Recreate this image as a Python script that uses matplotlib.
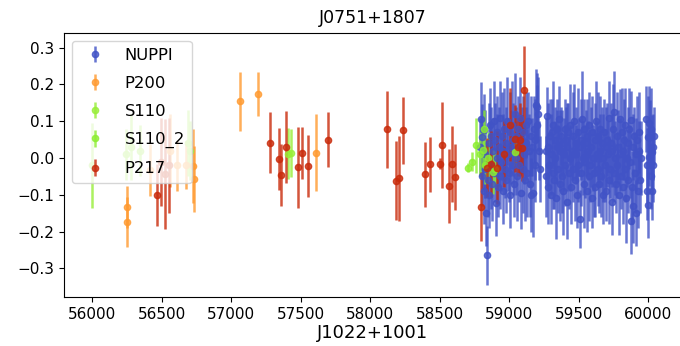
import numpy as np
import matplotlib
matplotlib.use("Agg")
import matplotlib.pyplot as plt

# NUPPI: MJD, residual, error
nuppi_mjd = [58792, 58797, 58801, 58806, 58811, 58815, 58819, 58824, 58829, 58834, 58840, 58845,
             58851, 58856, 58861, 58866, 58871, 58877, 58882, 58887, 58893, 58898, 58904, 58909,
             58914, 58920, 58925, 58931, 58936, 58942, 58947, 58953, 58958, 58964, 58969, 58975,
             58980, 58986, 58991, 58997, 59002, 59008, 59013, 59019, 59024, 59030, 59035, 59041,
             59046, 59052, 59057, 59063, 59068, 59074, 59079, 59085, 59090, 59096, 59101, 59107,
             59112, 59118, 59124, 59130, 59136, 59142, 59148, 59154, 59160, 59166, 59171, 59177,
             59183, 59188, 59193, 59198, 59203, 59208, 59213, 59219,
             59262, 59267, 59271, 59276, 59282, 59286, 59291, 59297, 59301, 59306, 59312, 59317,
             59321, 59327, 59332, 59336, 59342, 59347, 59352, 59357, 59362, 59368, 59373, 59377,
             59383, 59388, 59393, 59398, 59404, 59409, 59414, 59419, 59424, 59430, 59435, 59440,
             59445, 59451, 59456, 59461, 59466, 59472, 59477, 59482, 59487, 59493, 59498, 59503,
             59508, 59514, 59519, 59524, 59530, 59535, 59540, 59545, 59551, 59556, 59561, 59567,
             59572, 59577, 59582, 59588, 59593, 59598, 59604, 59609, 59614, 59619, 59625, 59630,
             59635, 59641, 59646, 59651, 59656, 59662, 59667, 59672, 59678, 59683, 59688, 59693,
             59699, 59704, 59709, 59715, 59720, 59725, 59730, 59736, 59741, 59746, 59752, 59757,
             59762, 59767, 59773, 59778, 59783, 59789, 59794, 59799, 59804, 59810, 59815, 59820,
             59826, 59831, 59836, 59841, 59847, 59852, 59857, 59863, 59868, 59873, 59878, 59884,
             59889, 59894, 59900, 59905, 59910, 59915, 59921, 59926, 59931, 59937, 59942, 59947,
             59985, 59989, 59993, 59997, 60001, 60005, 60009, 60013, 60017, 60021, 60025, 60029,
             60033, 60037, 60041]
nuppi_res = [0.03, 0.107, 0.058, -0.05, 0.02, -0.09, 0.075, -0.03, 0.01, -0.15, -0.265, -0.06,
             0.04, -0.1, 0.09, -0.02, 0.06, -0.07, 0.02, 0.1, -0.04, 0.05, -0.123, 0.0,
             0.07, -0.08, 0.03, -0.05, 0.11, -0.01, 0.06, -0.09, 0.02, 0.08, -0.03, 0.04,
             -0.06, 0.1, 0.01, -0.04, 0.07, -0.1, 0.03, 0.09, -0.02, 0.05, -0.07, 0.12,
             0.0, 0.06, -0.05, 0.08, -0.02, 0.11, 0.03, -0.094, 0.05, -0.03, 0.07, 0.01,
             -0.06, 0.09, 0.04, -0.04, 0.1, 0.02, -0.07, 0.06, -0.1, 0.03, -0.094, 0.08,
             -0.02, 0.05, 0.143, 0.14, 0.089, 0.12, 0.02, -0.03,
             0.02, -0.05, 0.114, -0.08, 0.03, -0.02, 0.06, -0.1, 0.01, 0.07, -0.04, 0.09,
             -0.06, 0.0, 0.05, -0.11, 0.03, 0.08, -0.03, 0.107, -0.07, 0.02, 0.06, -0.05,
             0.04, -0.09, 0.01, 0.08, -0.02, 0.05, -0.12, 0.03, 0.07, -0.04, 0.0, 0.09,
             -0.08, 0.02, 0.06, -0.03, 0.1, -0.06, 0.01, 0.04, -0.1, 0.07, -0.02, 0.03,
             -0.166, 0.05, -0.04, 0.107, 0.0, -0.07, 0.08, -0.01, 0.04, -0.09, 0.06, 0.02,
             -0.05, 0.09, -0.02, 0.03, -0.11, 0.07, 0.0, -0.04, 0.05, -0.08, 0.1, 0.01,
             -0.03, 0.06, -0.07, 0.02, 0.08, -0.05, 0.04, -0.1, 0.0, 0.07, -0.02, 0.03,
             -0.09, 0.05, 0.01, -0.06, 0.11, -0.03, 0.04, -0.12, 0.02, 0.08, -0.04, 0.126,
             0.0, -0.07, 0.06, -0.02, 0.03, -0.1, 0.107, 0.01, -0.05, 0.07, -0.08, 0.02,
             0.05, -0.03, 0.09, -0.11, 0.0, 0.04, -0.06, 0.08, -0.01, 0.103, -0.17, -0.08,
             0.03, -0.13, 0.06, -0.04, 0.01, -0.15, 0.05, -0.09, 0.02, 0.07, -0.06, 0.0,
             0.107, -0.019, -0.089, 0.058, -0.127, 0.096, 0.004, 0.058, -0.05, 0.08, -0.089, 0.017,
             0.03, -0.02, 0.06]
nuppi_err = [0.08, 0.1, 0.09, 0.08, 0.11, 0.09, 0.1, 0.08, 0.12, 0.09, 0.08, 0.1,
             0.11, 0.09, 0.1, 0.12, 0.08, 0.1, 0.09, 0.11, 0.08, 0.1, 0.09, 0.12,
             0.1, 0.08, 0.11, 0.09, 0.1, 0.08, 0.12, 0.09, 0.1, 0.11, 0.08, 0.1,
             0.09, 0.12, 0.1, 0.08, 0.11, 0.09, 0.1, 0.12, 0.08, 0.1, 0.09, 0.11,
             0.1, 0.08, 0.12, 0.09, 0.1, 0.11, 0.08, 0.1, 0.09, 0.12, 0.1, 0.08,
             0.11, 0.09, 0.1, 0.12, 0.08, 0.1, 0.09, 0.11, 0.1, 0.08, 0.12, 0.09,
             0.1, 0.11, 0.1, 0.09, 0.11, 0.1, 0.08, 0.09,
             0.09, 0.11, 0.08, 0.1, 0.12, 0.09, 0.1, 0.08, 0.11, 0.09, 0.1, 0.12,
             0.08, 0.1, 0.09, 0.11, 0.1, 0.08, 0.12, 0.09, 0.1, 0.11, 0.08, 0.1,
             0.09, 0.12, 0.1, 0.08, 0.11, 0.09, 0.1, 0.12, 0.08, 0.1, 0.09, 0.11,
             0.1, 0.08, 0.12, 0.09, 0.1, 0.11, 0.08, 0.1, 0.09, 0.12, 0.1, 0.08,
             0.08, 0.11, 0.09, 0.13, 0.1, 0.12, 0.08, 0.1, 0.09, 0.11, 0.1, 0.08,
             0.12, 0.09, 0.1, 0.11, 0.08, 0.1, 0.09, 0.12, 0.1, 0.08, 0.11, 0.09,
             0.1, 0.12, 0.08, 0.1, 0.09, 0.11, 0.1, 0.08, 0.12, 0.09, 0.1, 0.11,
             0.08, 0.1, 0.09, 0.12, 0.1, 0.08, 0.11, 0.09, 0.1, 0.12, 0.08, 0.11,
             0.1, 0.08, 0.12, 0.09, 0.1, 0.11, 0.08, 0.1, 0.09, 0.12, 0.1, 0.08,
             0.11, 0.09, 0.1, 0.12, 0.08, 0.1, 0.09, 0.11, 0.1, 0.08, 0.09, 0.1,
             0.09, 0.1, 0.08, 0.11, 0.1, 0.09, 0.12, 0.1, 0.08, 0.11, 0.09, 0.1,
             0.09, 0.1, 0.08, 0.11, 0.09, 0.1, 0.08, 0.1, 0.09, 0.11, 0.08, 0.1,
             0.09, 0.1, 0.08]

p200_mjd = [56249, 56252, 56416, 56560, 56608, 56673, 56724, 56728, 57060, 57193, 57606]
p200_res = [-0.132, -0.174, -0.032, 0.02, -0.02, -0.02, -0.022, -0.057, 0.154, 0.174, 0.014]
p200_err = [0.057, 0.067, 0.07, 0.1, 0.07, 0.065, 0.1, 0.09, 0.08, 0.06, 0.105]

s110_mjd = [55998, 56245, 56280, 56340, 56690, 56705, 57405, 57430]
s110_res = [-0.02, 0.01, 0.03, 0.02, 0.04, 0.02, 0.012, 0.014]
s110_err = [0.115, 0.07, 0.09, 0.07, 0.09, 0.08, 0.07, 0.065]

s110_2_mjd = [58705, 58730, 58762, 58790, 58813, 58820, 58827, 58850, 58884, 58895, 59039]
s110_2_res = [-0.026, -0.01, 0.035, 0.01, 0.022, 0.08, -0.02, 0.0, -0.037, -0.03, 0.017]
s110_2_err = [0.012, 0.025, 0.075, 0.06, 0.05, 0.05, 0.05, 0.07, 0.06, 0.05, 0.04]

p217_mjd = [56468, 56495, 56524, 56553, 57281, 57343, 57357, 57394, 57481, 57509, 57552,
            57699, 58117, 58182, 58205, 58236, 58394, 58431, 58500, 58516, 58564, 58586,
            58606, 58795, 58841, 58870, 58912, 58963, 59006, 59040, 59063, 59074, 59091, 59103]
p217_res = [-0.1, -0.01, -0.043, -0.02, 0.042, -0.003, -0.046, 0.03, -0.025, 0.013, -0.022,
            0.05, 0.078, -0.062, -0.055, 0.075, -0.044, -0.017, -0.016, 0.035, -0.076, -0.016,
            -0.051, -0.132, -0.026, -0.017, -0.026, 0.01, 0.091, 0.053, 0.031, 0.05, 0.027, 0.185]
p217_err = [0.085, 0.12, 0.15, 0.13, 0.083, 0.085, 0.085, 0.097, 0.11, 0.07, 0.085,
            0.075, 0.105, 0.107, 0.116, 0.09, 0.088, 0.075, 0.015, 0.117, 0.1, 0.104,
            0.09, 0.095, 0.08, 0.09, 0.1, 0.09, 0.1, 0.09, 0.08, 0.1, 0.09, 0.12]

groups = [
    ("NUPPI", nuppi_mjd, nuppi_res, nuppi_err, "#4153c6"),
    ("P200", p200_mjd, p200_res, p200_err, "#ff9a30"),
    ("S110", s110_mjd, s110_res, s110_err, "#98ee38"),
    ("S110_2", s110_2_mjd, s110_2_res, s110_2_err, "#8cee30"),
    ("P217", p217_mjd, p217_res, p217_err, "#c92a0a"),
]

fig = plt.figure(figsize=(6.8, 3.46), dpi=100)
ax = fig.add_axes([64 / 680, 1 - 297 / 346, (682 - 64) / 680, (297 - 33) / 346])

for name, x, y, e, c in groups:
    ax.errorbar(x, y, yerr=e, fmt="o", color=c, ecolor=c, markersize=4.5,
                elinewidth=1.8, alpha=0.8, label=name)

ax.set_xlim(55796, 60243)
ax.set_ylim(-0.378, 0.34)
ax.set_yticks([-0.3, -0.2, -0.1, 0.0, 0.1, 0.2, 0.3])
ax.tick_params(labelsize=11)
ax.set_title("J0751+1807", fontsize=12.5, pad=7)
ax.set_xlabel("J1022+1001", fontsize=13, labelpad=2)
ax.legend(loc="upper left", fontsize=11.8, labelspacing=0.8)

fig.savefig("out.png", dpi=100)
